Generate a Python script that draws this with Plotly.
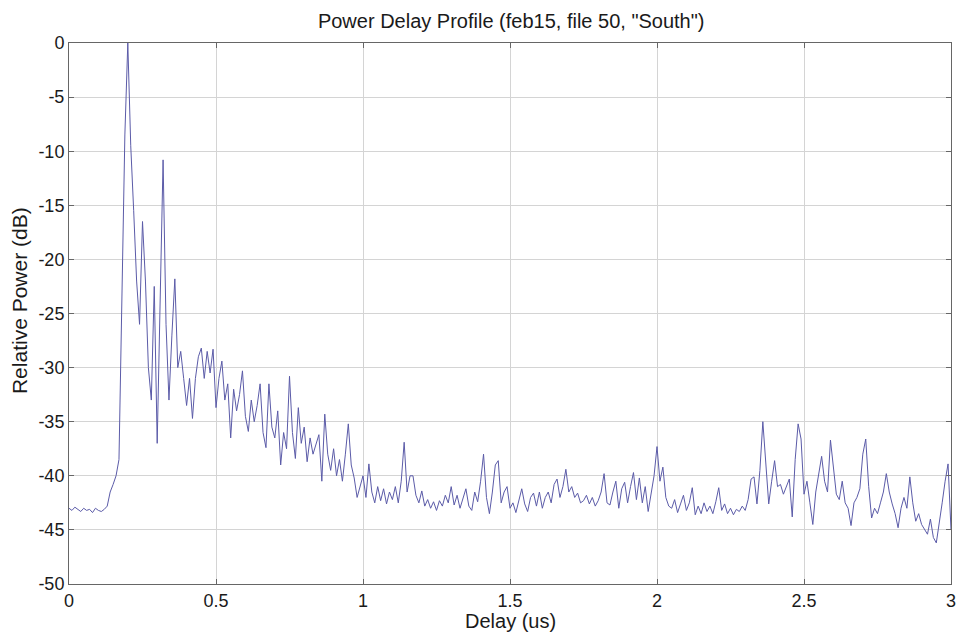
import numpy as np
import plotly.graph_objects as go

# sample grid, 0.01 us steps from 0 to 3 us
delay_us = np.round(np.arange(301) * 0.01, 2)

# relative power (dB), one row per 0.1 us
power_db = [
    -43.0, -43.2, -42.9, -43.1, -43.3, -43.0, -43.2, -43.1, -43.4, -43.0,
    -43.2, -43.3, -43.1, -42.8, -41.5, -40.8, -40.0, -38.5, -25.0, -8.5,
    0.0, -9.5, -15.5, -22.0, -26.0, -16.5, -22.0, -30.0, -33.0, -22.5,
    -37.0, -24.0, -10.8, -26.0, -33.0, -27.0, -21.8, -30.0, -28.5, -31.0,
    -33.5, -31.0, -34.7, -31.0, -29.0, -28.2, -31.0, -28.5, -30.5, -28.3,
    -33.7, -31.0, -29.4, -33.0, -31.5, -36.5, -32.0, -34.0, -32.5, -30.3,
    -34.5, -35.9, -33.0, -35.0, -33.5, -31.5, -36.0, -37.4, -31.5, -35.5,
    -36.5, -34.0, -39.0, -36.0, -37.5, -30.8, -36.0, -38.4, -33.7, -37.0,
    -35.5, -38.7, -36.5, -38.0, -37.0, -36.2, -40.5, -34.3, -38.0, -39.5,
    -37.5, -40.0, -38.5, -40.5, -38.0, -35.2, -39.0, -40.2, -42.0, -41.0,
    -40.0, -42.0, -38.9, -41.5, -42.5, -41.0, -42.3, -41.2, -42.6, -41.5,
    -42.2, -41.0, -42.5, -40.5, -36.9, -41.5, -40.0, -40.0, -41.8, -42.5,
    -41.4, -42.8, -42.2, -43.0, -42.4, -43.2, -42.3, -42.8, -41.8, -42.5,
    -41.0, -42.7, -41.8, -43.0, -42.0, -41.2, -42.8, -43.2, -41.5, -42.4,
    -40.5, -38.0, -42.0, -43.5, -41.5, -39.0, -38.6, -42.5, -41.5, -41.0,
    -43.0, -42.5, -43.4, -42.2, -41.2, -42.6, -43.3, -42.0, -41.6, -42.8,
    -41.5, -43.0, -42.0, -41.5, -42.5, -40.8, -40.3, -42.0, -41.0, -39.4,
    -41.5, -41.0, -42.0, -41.6, -42.5, -42.3, -41.8, -42.6, -42.0, -42.8,
    -42.3, -41.5, -39.8, -42.5, -42.7, -41.5, -40.5, -43.0, -41.2, -40.6,
    -42.5, -41.0, -39.7, -42.2, -40.2, -42.5, -41.0, -43.3, -41.5, -40.0,
    -37.3, -40.5, -39.2, -42.0, -42.8, -43.0, -42.2, -43.4, -42.6, -41.8,
    -43.2, -42.5, -41.1, -43.6, -42.8, -43.5, -42.5, -43.3, -42.8, -43.5,
    -42.4, -41.1, -43.2, -42.6, -43.5, -43.0, -43.6, -43.1, -43.3, -42.8,
    -43.2, -42.2, -40.3, -40.1, -42.6, -39.5, -35.0, -39.0, -42.6, -40.5,
    -38.6, -41.0, -40.8, -41.7, -41.0, -40.3, -43.8, -38.5, -35.2, -36.6,
    -41.7, -40.5, -42.5, -44.5, -41.5, -40.0, -38.2, -40.5, -41.5, -36.7,
    -39.5, -41.7, -42.2, -40.5, -42.5, -43.0, -44.6, -42.5, -42.0, -41.2,
    -38.0, -36.6, -41.0, -43.9, -43.0, -43.5, -42.5, -41.5, -39.8, -41.5,
    -42.6, -43.5, -44.8, -43.0, -42.0, -43.0, -40.1, -42.5, -44.2, -43.5,
    -44.5, -45.0, -45.4, -44.0, -45.7, -46.2, -44.5, -42.5, -40.5, -38.9,
    -45.0,
]

x_ticks = [0, 0.5, 1, 1.5, 2, 2.5, 3]
x_tick_text = ['0', '0.5', '1', '1.5', '2', '2.5', '3']
y_ticks = [-50, -45, -40, -35, -30, -25, -20, -15, -10, -5, 0]
y_tick_text = ['-50', '-45', '-40', '-35', '-30', '-25', '-20', '-15', '-10', '-5', '0']

fig = go.Figure(go.Scatter(
    x=delay_us, y=power_db, mode='lines',
    line=dict(color='#5b5ba8', width=1),
    showlegend=False,
))

axis_style = dict(
    showline=True, mirror='allticks', linecolor='#666666', linewidth=1,
    ticks='inside', ticklen=5, tickcolor='#666666',
    showgrid=True, gridcolor='#d4d4d4', gridwidth=1,
    zeroline=False, automargin=False,
    tickfont=dict(size=18, color='#1a1a1a'),
)

# the page body adds ~7px offset, so margins are set a bit smaller
fig.update_layout(
    width=964, height=634,
    paper_bgcolor='white', plot_bgcolor='white',
    font=dict(family='Liberation Sans, Arial, sans-serif', color='#1a1a1a'),
    title=dict(text='Power Delay Profile (feb15, file 50, "South")',
               x=0.522, xanchor='center', y=0.979, yanchor='middle',
               font=dict(size=20)),
    margin=dict(l=61, r=21, t=35, b=58),
    annotations=[
        dict(text='Relative Power (dB)', xref='paper', yref='paper',
             x=0, y=0.523, xshift=-50, textangle=-90, showarrow=False,
             font=dict(size=21), xanchor='center', yanchor='middle'),
        dict(text='Delay (us)', xref='paper', yref='paper',
             x=0.5, y=0, yshift=-37, showarrow=False,
             font=dict(size=20), xanchor='center', yanchor='middle'),
    ],
)
fig.update_xaxes(range=[0, 3], tickvals=x_ticks, ticktext=x_tick_text,
                 ticklabelstandoff=0, **axis_style)
fig.update_yaxes(range=[-50, 0], tickvals=y_ticks, ticktext=y_tick_text,
                 ticklabelstandoff=0, **axis_style)

fig.write_html('out.html')
